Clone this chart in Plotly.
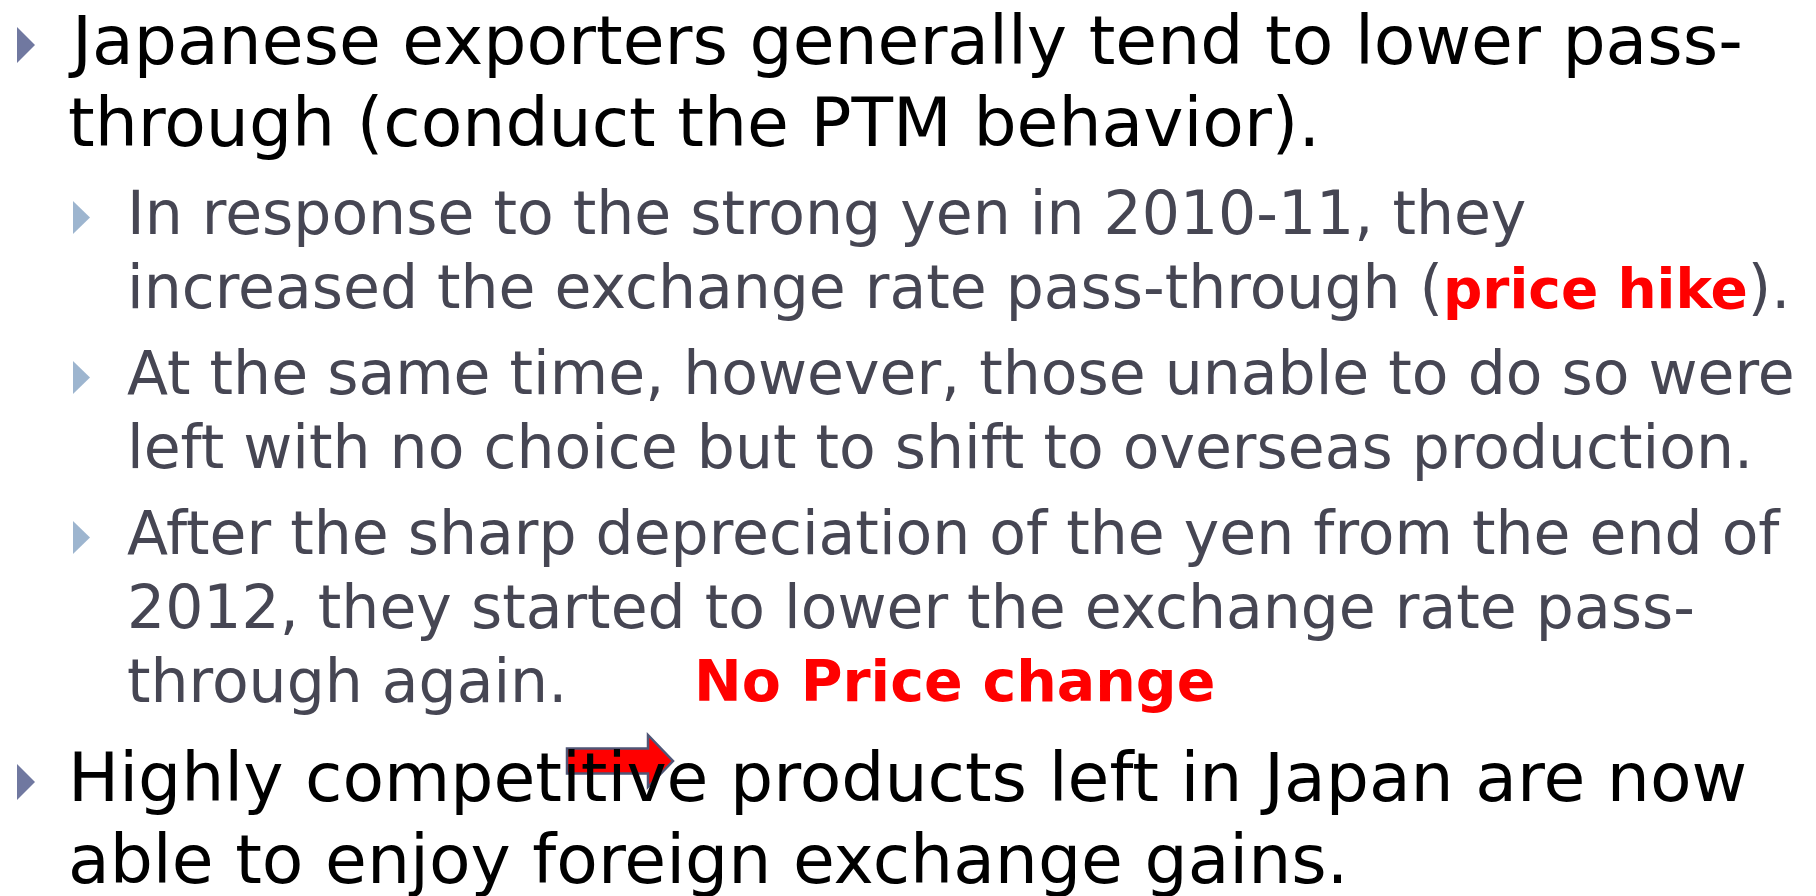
import plotly.graph_objects as go

W, H = 1816, 896

# slide text: bullet level and wrapped lines of each paragraph
levels = [0, 1, 1, 1, 0]
paragraphs = [
    ["Japanese exporters generally tend to lower pass-",
     "through (conduct the PTM behavior)."],
    ["In response to the strong yen in 2010-11, they",
     "increased the exchange rate pass-through ("
     "<b><span style='color:#FF0000;font-size:55px'>price hike</span></b>)."],
    ["At the same time, however, those unable to do so were",
     "left with no choice but to shift to overseas production."],
    ["After the sharp depreciation of the yen from the end of",
     "2012, they started to lower the exchange rate pass-",
     "through again."],
    ["Highly competitive products left in Japan are now",
     "able to enjoy foreign exchange gains."],
]
callout_text = "No Price change"

FONT = "Verdana, DejaVu Sans, sans-serif"
font_size = {0: 68, 1: 60}
text_color = {0: "#000000", 1: "#464653"}
bullet_color = {0: "#7078A0", 1: "#9DB5CF"}
text_x = {0: 66, 1: 125}
bullet_x = {0: 17, 1: 73}
bullet_w = {0: 18, 1: 17}
bullet_h = {0: 36, 1: 33}
bullet_lift = {0: 19, 1: 16.5}
line_step = {0: 82, 1: 74}
para_gap = [0, 88, 86, 86, 99]
first_baseline = 64


def mid_from_baseline(b, fs):
    # annotation is anchored at its middle; shift so glyph baseline lands on b
    return b - 0.35 * fs


fig = go.Figure()
shapes = []
annotations = []

baseline = first_baseline
for i, (lvl, lines) in enumerate(zip(levels, paragraphs)):
    if i > 0:
        baseline += para_gap[i]
    fs = font_size[lvl]
    cy = baseline - bullet_lift[lvl]
    bx, bw, bh = bullet_x[lvl], bullet_w[lvl], bullet_h[lvl]
    shapes.append(dict(type="path", xref="x", yref="y",
                       path=f"M{bx},{cy - bh / 2} L{bx + bw},{cy} L{bx},{cy + bh / 2} Z",
                       fillcolor=bullet_color[lvl], line=dict(width=0)))
    for j, line in enumerate(lines):
        if j > 0:
            baseline += line_step[lvl]
        annotations.append(dict(x=text_x[lvl], y=mid_from_baseline(baseline, fs), xref="x", yref="y",
                                text=line, showarrow=False, xanchor="left", yanchor="middle",
                                font=dict(family=FONT, size=fs, color=text_color[lvl])))
        if i == 3 and j == len(lines) - 1:
            annotations.append(dict(x=692, y=mid_from_baseline(baseline, fs), xref="x", yref="y",
                                    text=f"<b>{callout_text}</b>", showarrow=False,
                                    xanchor="left", yanchor="middle",
                                    font=dict(family=FONT, size=57, color="#FF0000")))

# block arrow pointing at the second top-level bullet
ax0, ax1, atip = 567, 648, 673
ay, body_h, head_h = 761, 25, 52
shapes.append(dict(type="path", xref="x", yref="y",
                   path=(f"M{ax0},{ay - body_h / 2} L{ax1},{ay - body_h / 2} L{ax1},{ay - head_h / 2} "
                         f"L{atip},{ay} L{ax1},{ay + head_h / 2} L{ax1},{ay + body_h / 2} "
                         f"L{ax0},{ay + body_h / 2} Z"),
                   fillcolor="#FF0000", line=dict(color="#4F5676", width=2.5), layer="above"))

fig.update_layout(
    width=W, height=H,
    margin=dict(l=0, r=0, t=0, b=0),
    paper_bgcolor="white", plot_bgcolor="white",
    xaxis=dict(range=[0, W], visible=False, fixedrange=True),
    yaxis=dict(range=[H, 0], visible=False, fixedrange=True),
    shapes=shapes, annotations=annotations,
    showlegend=False,
)

# drop the default page margin so the slide sits flush in the window
fig.write_html("out.html", config={"displayModeBar": False},
               post_script="document.body.style.margin='0';document.body.style.overflow='hidden';")
